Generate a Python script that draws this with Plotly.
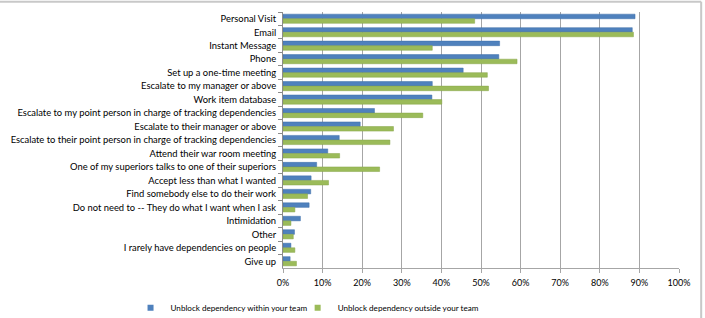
import plotly.graph_objects as go

categories = [
    "Personal Visit",
    "Email",
    "Instant Message",
    "Phone",
    "Set up a one-time meeting",
    "Escalate to my manager or above",
    "Work item database",
    "Escalate to my point person in charge of tracking dependencies",
    "Escalate to their manager or above",
    "Escalate to their point person in charge of tracking dependencies",
    "Attend their war room meeting",
    "One of my superiors talks to one of their superiors",
    "Accept less than what I wanted",
    "Find somebody else to do their work",
    "Do not need to -- They do what I want when I ask",
    "Intimidation",
    "Other",
    "I rarely have dependencies on people",
    "Give up",
]

within_team = [0.889, 0.882, 0.547, 0.545, 0.455, 0.377, 0.376, 0.231, 0.195,
               0.142, 0.113, 0.085, 0.071, 0.070, 0.066, 0.044, 0.029, 0.020, 0.018]
outside_team = [0.484, 0.885, 0.377, 0.591, 0.516, 0.519, 0.401, 0.353, 0.279,
                0.270, 0.143, 0.244, 0.115, 0.062, 0.030, 0.020, 0.026, 0.030, 0.034]

series_names = ["Unblock dependency within your team", "Unblock dependency outside your team"]
x_ticks = [0, 0.1, 0.2, 0.3, 0.4, 0.5, 0.6, 0.7, 0.8, 0.9, 1.0]
x_tick_labels = ["0%", "10%", "20%", "30%", "40%", "50%", "60%", "70%", "80%", "90%", "100%"]

BLUE = "#4F81BD"
GREEN = "#9BBB59"

fig = go.Figure()
fig.add_trace(go.Bar(
    y=categories, x=within_team, orientation="h", name=series_names[0],
    marker=dict(color=BLUE, line=dict(color="#3f6fa8", width=0.5)), showlegend=False,
))
fig.add_trace(go.Bar(
    y=categories, x=outside_team, orientation="h", name=series_names[1],
    marker=dict(color=GREEN, line=dict(color="#86a548", width=0.5)), showlegend=False,
))
# legend entries with small square symbols, one legend per entry for exact placement
for name, col, lg in zip(series_names, [BLUE, GREEN], ["legend", "legend2"]):
    fig.add_trace(go.Scatter(
        x=[None], y=[None], mode="markers", name=name, legend=lg,
        marker=dict(symbol="square", size=6, color=col),
    ))

legend_common = dict(
    orientation="h", xanchor="left", y=-0.155, yanchor="middle",
    font=dict(size=8.1), itemwidth=30, bgcolor="rgba(0,0,0,0)",
)

fig.update_layout(
    width=705, height=318,
    margin=dict(l=283, r=26, t=12, b=50, autoexpand=False),
    paper_bgcolor="white", plot_bgcolor="white",
    barmode="group", bargap=0.32, bargroupgap=0.0,
    font=dict(family="Lato", size=9.4, color="#000000"),
    legend=dict(x=-0.385, **legend_common),
    legend2=dict(x=0.037, **legend_common),
    xaxis=dict(
        range=[0, 1], tickvals=x_ticks, ticktext=x_tick_labels,
        showgrid=True, gridcolor="#a6a6a6", gridwidth=1,
        showline=True, linecolor="#a6a6a6", linewidth=1,
        ticks="outside", ticklen=4, tickcolor="#a6a6a6",
        tickfont=dict(size=9), automargin=False, ticklabelstandoff=2,
        zeroline=False, fixedrange=True,
    ),
    yaxis=dict(
        type="category", autorange="reversed",
        showline=True, linecolor="#8c8c8c", linewidth=1,
        ticks="outside", ticklen=4, tickcolor="#8c8c8c", tickson="boundaries",
        ticklabelstandoff=4,
        showgrid=False, fixedrange=True, automargin=False,
    ),
    shapes=[
        dict(type="line", xref="paper", yref="paper", x0=-0.75, x1=1.056, y0=1.04, y1=1.04,
             line=dict(color="#c8c8c8", width=2)),
        dict(type="line", xref="paper", yref="paper", x0=1.056, x1=1.056, y0=1.04, y1=-0.25,
             line=dict(color="#c8c8c8", width=2)),
    ],
)

fig.write_html("out.html")
